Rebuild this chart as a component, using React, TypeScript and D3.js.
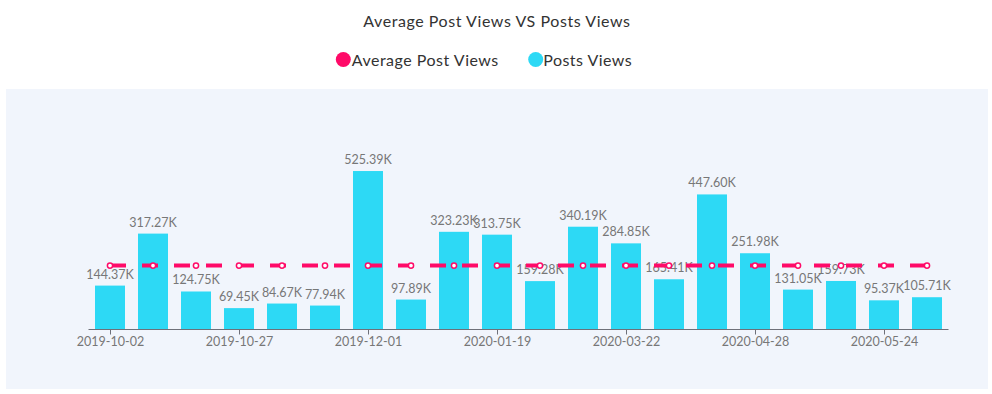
import React from "react";
import * as d3 from "d3";

const categories = [
  "2019-10-02", "2019-10-09", "2019-10-18", "2019-10-27", "2019-11-05",
  "2019-11-17", "2019-12-01", "2019-12-15", "2020-01-05", "2020-01-19",
  "2020-02-02", "2020-02-23", "2020-03-22", "2020-04-05", "2020-04-19",
  "2020-04-28", "2020-05-07", "2020-05-15", "2020-05-24", "2020-06-04",
];
const postViews = [
  144370, 317270, 124750, 69450, 84670, 77940, 525390, 97890, 323230, 313750,
  159280, 340190, 284850, 165410, 447600, 251980, 131050, 159730, 95370, 105710,
];
const avgViews = [
  210994, 210994, 210994, 210994, 210994, 210994, 210994, 210994, 210994, 210994,
  210994, 210994, 210994, 210994, 210994, 210994, 210994, 210994, 210994, 210994,
];
const shownTicks = [
  "2019-10-02", "2019-10-27", "2019-12-01", "2020-01-19",
  "2020-03-22", "2020-04-28", "2020-05-24",
];

const W = 992;
const H = 394;
const font = "Lato, 'Open Sans', sans-serif";
const pink = "#ff0a68";
const cyan = "#2dd9f5";

export default function App() {
  const xc = d3.scalePoint().domain(categories).range([110, 927]);
  const y = d3.scaleLinear().domain([0, 600000]).range([329, 148.6]);
  const bw = 30;
  const half = (xc.step() as number) / 2;

  const line = d3
    .line<number>()
    .x((d, i) => xc(categories[i]) as number)
    .y((d) => y(d));

  const fmt = (v: number) => (v / 1000).toFixed(2) + "K";

  return (
    <svg width={W} height={H} style={{ position: "absolute", left: 0, top: 0 }}>
      <rect x={0} y={0} width={W} height={H} fill="#fff" />
      <text x={363.3} y={26.5} fontFamily={font} fontSize={16} fill="#333" textLength={266.7} lengthAdjust="spacing">
        Average Post Views VS Posts Views
      </text>
      {/* legend */}
      <g fontFamily={font} fontSize={16} fill="#333">
        <circle cx={343.3} cy={59.5} r={7.5} fill={pink} />
        <text x={351.7} y={66} textLength={146.6} lengthAdjust="spacing">Average Post Views</text>
        <circle cx={535.7} cy={59.5} r={7.5} fill={cyan} />
        <text x={543.3} y={66} textLength={88.4} lengthAdjust="spacing">Posts Views</text>
      </g>
      <rect x={6} y={89} width={982} height={300} fill="#f1f5fc" />

      {/* bars */}
      {postViews.map((v, i) => {
        const cx = xc(categories[i]) as number;
        return (
          <rect key={i} x={cx - bw / 2} y={y(v)} width={bw} height={y(0) - y(v)} fill={cyan} />
        );
      })}

      {/* axis */}
      <line x1={110 - half} x2={927 + half} y1={329.5} y2={329.5} stroke="#6e7079" />
      {shownTicks.map((t) => {
        const cx = Math.round(xc(t) as number) + 0.5;
        return (
          <g key={t}>
            <line x1={cx} x2={cx} y1={329.5} y2={334.5} stroke="#6e7079" />
            <text x={cx} y={345.5} textAnchor="middle" fontFamily={font} fontSize={12.5} fill="#777">
              {t}
            </text>
          </g>
        );
      })}

      {/* labels */}
      {postViews.map((v, i) => (
        <text
          key={i}
          x={xc(categories[i]) as number}
          y={y(v) - 7}
          textAnchor="middle"
          fontFamily={font}
          fontSize={12.5}
          fill="#777"
        >
          {fmt(v)}
        </text>
      ))}

      {/* average line */}
      <path d={line(avgViews) || ""} fill="none" stroke={pink} strokeWidth={4} strokeDasharray="16,16" />
      {avgViews.map((v, i) => (
        <circle
          key={i}
          cx={xc(categories[i]) as number}
          cy={y(v)}
          r={2.6}
          fill="#fff"
          stroke={pink}
          strokeWidth={1.5}
        />
      ))}
    </svg>
  );
}
